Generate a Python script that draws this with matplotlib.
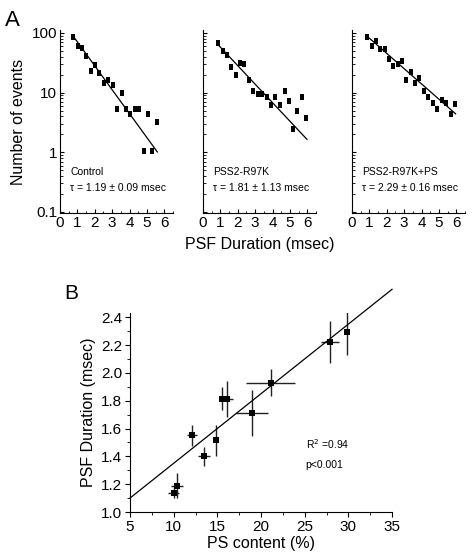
import matplotlib
matplotlib.use("Agg")
import matplotlib.pyplot as plt
from matplotlib.ticker import MultipleLocator, FixedLocator, LogLocator, NullFormatter
import numpy as np

plt.rcParams['font.family'] = ['Liberation Sans', 'DejaVu Sans']

# --- panel A: dwell-time histograms (bin centre in msec, number of events)
ctrl_t = [0.77, 1.04, 1.25, 1.5, 1.77, 2.0, 2.27, 2.52, 2.77, 3.02,
          3.29, 3.54, 3.79, 4.04, 4.31, 4.54, 4.81, 5.06, 5.31, 5.56]
ctrl_n = [85, 61, 56, 41, 23, 29, 21, 14.4, 16.3, 13.2,
          5.3, 9.8, 5.3, 4.3, 5.3, 5.3, 1.07, 4.3, 1.07, 3.2]

r97k_t = [0.88, 1.13, 1.37, 1.63, 1.88, 2.13, 2.38, 2.63, 2.88, 3.15, 3.42,
          3.67, 3.92, 4.17, 4.43, 4.69, 4.92, 5.19, 5.42, 5.70, 5.94]
r97k_n = [67, 49, 43, 27, 20, 31, 30, 16.3, 10.7, 9.5, 9.5,
          8.4, 6.1, 8.4, 6.1, 10.7, 7.2, 2.5, 4.9, 8.4, 3.7]

ps_t = [0.85, 1.13, 1.36, 1.62, 1.87, 2.11, 2.37, 2.64, 2.89, 3.13, 3.39,
        3.64, 3.88, 4.14, 4.4, 4.66, 4.9, 5.15, 5.42, 5.67, 5.93]
ps_n = [85, 61, 74, 54, 54, 37, 28, 30, 34, 16, 22,
        14.4, 17.4, 10.8, 8.6, 6.6, 5.4, 7.6, 6.6, 4.3, 6.5]

# exponential fits drawn in the figure: amplitude, decay (msec), t range
fit_amp = [178, 118, 147]
fit_tau = [1.083, 1.40, 1.70]
fit_range = [(0.8, 5.6), (0.88, 5.98), (0.85, 5.96)]

names = ['Control', 'PSS2-R97K', 'PSS2-R97K+PS']
taus = ['\u03c4 = 1.19 \u00b1 0.09 msec', '\u03c4 = 1.81 \u00b1 1.13 msec',
        '\u03c4 = 2.29 \u00b1 0.16 msec']

# --- panel B: PS content vs PSF duration
ps_content = [10.0, 10.4, 12.1, 13.5, 14.8, 15.5, 16.15, 19.0, 21.1, 27.9, 29.85]
psf_dur = [1.14, 1.19, 1.55, 1.40, 1.515, 1.815, 1.81, 1.71, 1.93, 2.22, 2.29]
ps_err = [0.65, 0.7, 0.6, 0.7, 0.1, 0.3, 0.7, 1.85, 2.8, 1.0, 0.2]
psf_err = [0.04, 0.09, 0.075, 0.07, 0.11, 0.085, 0.13, 0.165, 0.095, 0.15, 0.16]
reg_a, reg_b = 0.85, 0.05

W, H = 472, 558
fig = plt.figure(figsize=(W / 100, H / 100), dpi=100)

def box(l, t, r, b):
    return [l / W, 1 - b / H, (r - l) / W, (b - t) / H]

# tall little rectangles like the original histogram markers
rect = [(-0.32, -0.5), (0.32, -0.5), (0.32, 0.5), (-0.32, 0.5), (-0.32, -0.5)]

lefts = [60, 203, 352]
series = [(ctrl_t, ctrl_n), (r97k_t, r97k_n), (ps_t, ps_n)]
for i, (tx, ny) in enumerate(series):
    ax = fig.add_axes(box(lefts[i], 30, lefts[i] + 113, 213))
    ax.plot(tx, ny, ls='none', marker=rect, color='black', ms=5, mew=0)
    t = np.linspace(*fit_range[i], 50)
    ax.plot(t, fit_amp[i] * np.exp(-t / fit_tau[i]), color='black', lw=0.9)
    ax.set_yscale('log')
    ax.set_xlim(0, 6.5)
    ax.set_ylim(0.096, 112)
    for s in ['top', 'right']:
        ax.spines[s].set_visible(False)
    ax.xaxis.set_major_locator(MultipleLocator(1))
    ax.xaxis.set_minor_locator(MultipleLocator(0.5))
    ax.yaxis.set_major_locator(FixedLocator([0.1, 1, 10, 100]))
    ax.yaxis.set_minor_locator(LogLocator(base=10, subs=np.arange(2, 10)))
    ax.yaxis.set_minor_formatter(NullFormatter())
    ax.tick_params(which='both', direction='in', labelsize=11, pad=2)
    ax.tick_params(which='major', length=3)
    ax.tick_params(which='minor', length=1.8)
    if i == 0:
        ax.set_yticklabels(['0.1', '1', '10', '100'])
        ax.set_ylabel('Number of events', fontsize=11.5)
    else:
        ax.set_yticklabels([])
    if i == 1:
        ax.set_xlabel('PSF Duration (msec)', fontsize=11.5, labelpad=5)
    ax.text(0.09, 0.21, names[i], transform=ax.transAxes, fontsize=7.5)
    ax.text(0.09, 0.12, taus[i], transform=ax.transAxes, fontsize=7.5)

fig.text(5 / W, 1 - 26 / H, 'A', fontsize=16)
fig.text(64 / W, 1 - 299 / H, 'B', fontsize=15)

axb = fig.add_axes(box(130, 313, 392, 512))
axb.errorbar(ps_content, psf_dur, xerr=ps_err, yerr=psf_err, fmt='s',
             color='black', ms=4.2, mew=0, ecolor='#222222', elinewidth=1,
             capsize=2.5, capthick=0.9)
xx = np.array([5, 35])
axb.plot(xx, reg_a + reg_b * xx, color='black', lw=0.9, clip_on=False)
axb.set_xlim(5, 35)
axb.set_ylim(1.0, 2.43)
for s in ['top', 'right']:
    axb.spines[s].set_visible(False)
axb.xaxis.set_major_locator(MultipleLocator(5))
axb.xaxis.set_minor_locator(MultipleLocator(2.5))
axb.yaxis.set_major_locator(MultipleLocator(0.2))
axb.yaxis.set_minor_locator(MultipleLocator(0.1))
axb.yaxis.set_major_formatter(matplotlib.ticker.FormatStrFormatter('%.1f'))
axb.tick_params(which='both', direction='out', labelsize=11, pad=2)
axb.tick_params(which='major', length=3.5)
axb.tick_params(which='minor', length=2)
axb.set_xlabel('PS content (%)', fontsize=11.5, labelpad=2)
axb.set_ylabel('PSF Duration (msec)', fontsize=11.5, labelpad=4)
axb.text(0.67, 0.315, 'R$^2$ =0.94', transform=axb.transAxes, fontsize=7.5)
axb.text(0.67, 0.22, 'p<0.001', transform=axb.transAxes, fontsize=7.5)

fig.savefig('out.png', dpi=100)
